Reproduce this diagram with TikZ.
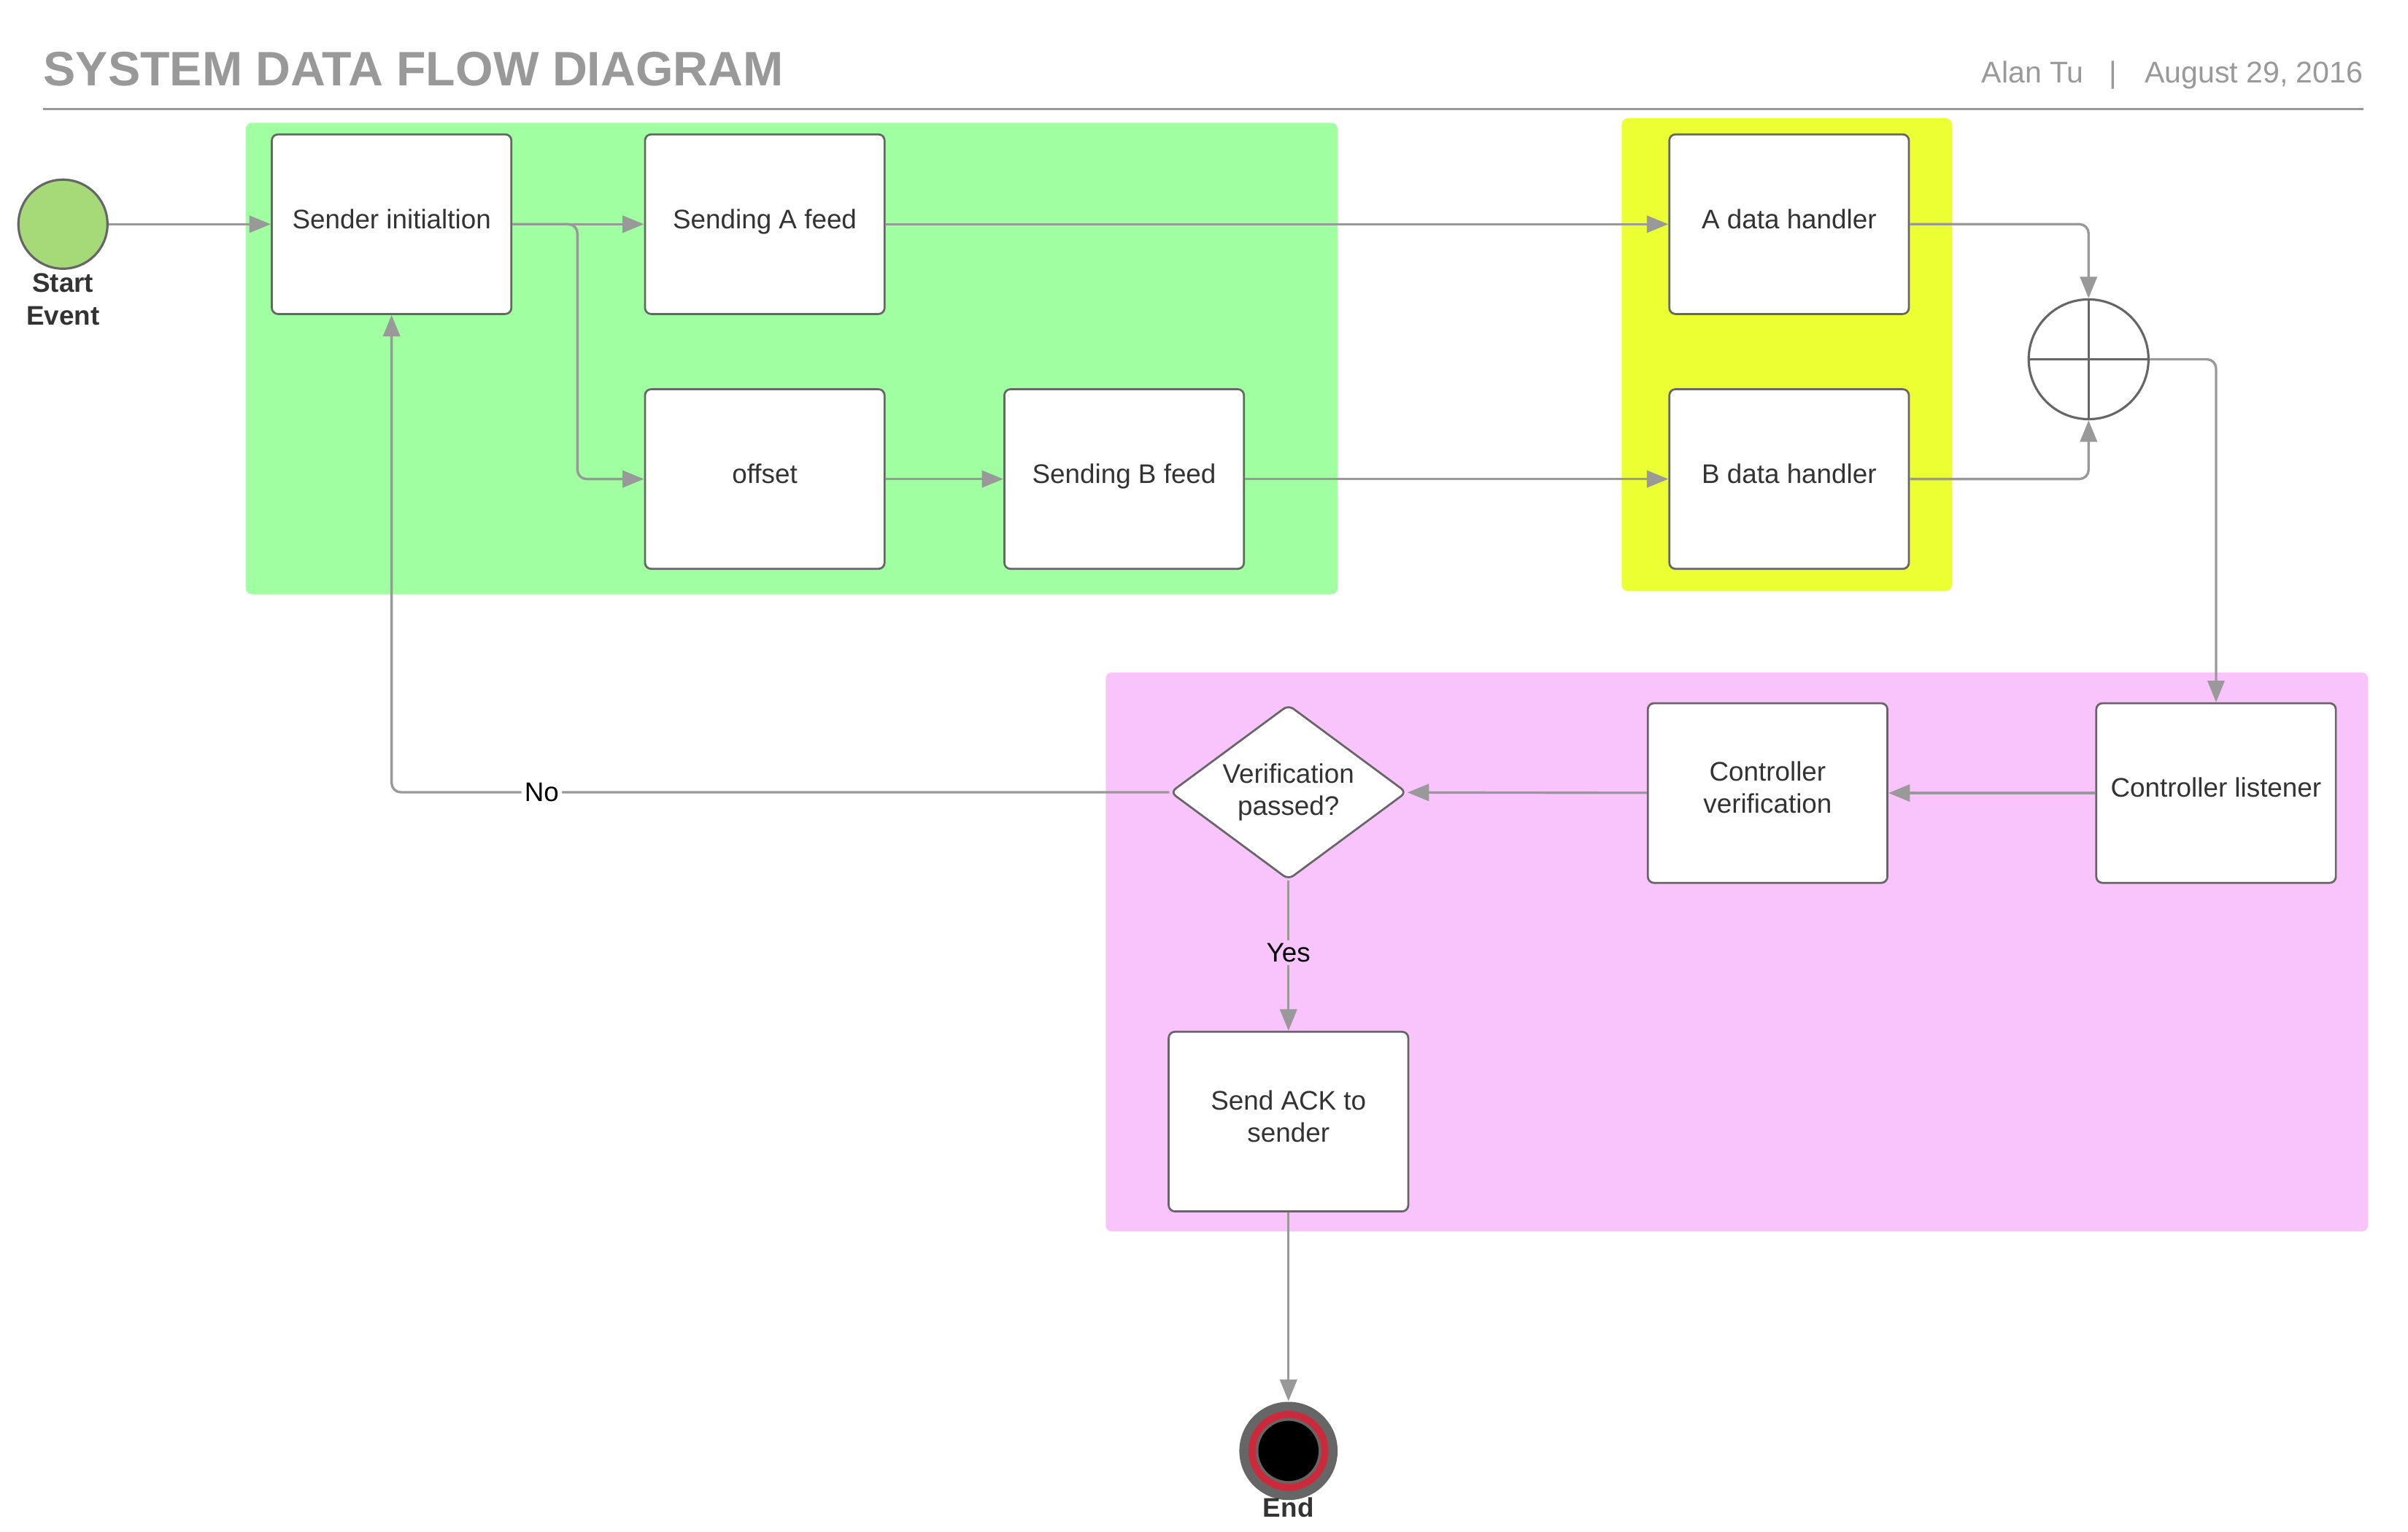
\documentclass[tikz,border=0pt]{standalone}
\usepackage{fontspec}
\setmainfont{Liberation Sans}
\usetikzlibrary{arrows.meta,shapes.geometric,calc}
\definecolor{titlegray}{RGB}{153,153,153}
\definecolor{conngray}{RGB}{153,153,153}
\definecolor{bordergray}{RGB}{102,102,102}
\definecolor{textdark}{RGB}{51,51,51}
\definecolor{greenbg}{RGB}{160,255,160}
\definecolor{yellowbg}{RGB}{235,255,51}
\definecolor{pinkbg}{RGB}{249,196,252}
\definecolor{startgreen}{RGB}{166,217,119}
\definecolor{endred}{RGB}{204,41,58}
\begin{document}
\begin{tikzpicture}[x=0.5pt,y=-0.5pt,
  boxnode/.style={draw=bordergray, fill=white, line width=0.65pt, rounded corners=2pt,
    minimum width=78pt, minimum height=58.5pt, inner sep=0pt, align=center, text depth=3.6pt,
    text=textdark, font=\fontsize{8.75pt}{10.5pt}\selectfont},
  conn/.style={draw=conngray, line width=0.8pt, -{Triangle[length=7pt,width=5.5pt]}},
  lbl/.style={font=\fontsize{8.75pt}{10.5pt}\selectfont, text=black, inner sep=1pt},
  region/.style={rounded corners=2pt}]
\useasboundingbox (0,0) rectangle (1568,997.8);
\fill[white] (0,0) rectangle (1568,997.8);
% header
\node[anchor=base west, inner sep=0pt, text=titlegray, font=\fontsize{15.75pt}{18pt}\selectfont\bfseries] (title) at (28,56) {SYSTEM DATA FLOW DIAGRAM};
\node[anchor=base west, inner sep=0pt, text=titlegray, font=\fontsize{9.75pt}{12pt}\selectfont] (author) at (1290,54) {Alan Tu};
\node[anchor=base, inner sep=0pt, text=titlegray, font=\fontsize{9.75pt}{12pt}\selectfont] (sep) at (1376,54) {|};
\node[anchor=base east, inner sep=0pt, text=titlegray, font=\fontsize{9.75pt}{12pt}\selectfont] (date) at (1539,54) {August 29, 2016};
\draw[titlegray, line width=0.8pt] (28,71) -- (1539,71);
% regions
\fill[greenbg, region] (160,80) rectangle (871,387);
\fill[yellowbg, region] (1056,77) rectangle (1271,385);
\fill[pinkbg, region] (720,438) rectangle (1542,802);
% start and end
\node[circle, draw=bordergray, fill=startgreen, line width=0.75pt, minimum size=29pt, inner sep=0pt] (st) at (41,146) {};
\node[align=center, inner sep=0pt, text=textdark, font=\fontsize{8.75pt}{10.5pt}\selectfont\bfseries] (stl) at (41,195) {Start\\Event};
\node[circle, fill=bordergray, minimum size=32pt, inner sep=0pt] (en) at (839,945) {};
\fill[endred] (en.center) circle (13pt);
\fill[bordergray] (en.center) circle (10.7pt);
\fill[black] (en.center) circle (9.8pt);
\node[inner sep=0pt, text=textdark, font=\fontsize{8.75pt}{10.5pt}\selectfont\bfseries] (enl) at (839,982) {End};
% boxes
\node[boxnode] (si) at (255,146) {Sender initialtion};
\node[boxnode] (sa) at (498,146) {Sending A feed};
\node[boxnode] (off) at (498,312) {offset};
\node[boxnode] (sb) at (732,312) {Sending B feed};
\node[boxnode] (ad) at (1165,146) {A data handler};
\node[boxnode] (bd) at (1165,312) {B data handler};
\node[boxnode] (cl) at (1443,516.5) {Controller listener};
\node[boxnode] (cv) at (1151,516.5) {Controller\\verification};
\node[boxnode] (ack) at (839,730.5) {Send ACK to\\sender};
\node[diamond, draw=bordergray, fill=white, line width=0.65pt, rounded corners=2pt,
  minimum width=77pt, minimum height=57pt, aspect=1.35, inner sep=0pt, align=center,
  text=textdark, font=\fontsize{8.75pt}{10.5pt}\selectfont] (dec) at (839,516) {Verification\\passed?};
\node[circle, draw=bordergray, fill=white, line width=0.75pt, minimum size=39pt, inner sep=0pt] (gw) at (1360,234) {};
\draw[bordergray, line width=0.75pt] (gw.north) -- (gw.south) (gw.west) -- (gw.east);
% connectors
\coordinate (br) at (376,146);
\draw[conn] (st) -- (si);
\draw[conn] (si) -- (sa);
\draw[conn, rounded corners=3pt] (si.east) -- (br) |- (off.west);
\draw[conn] (sa) -- (ad);
\draw[conn] (off) -- (sb);
\draw[conn] (sb) -- (bd);
\draw[conn, rounded corners=3pt] (ad.east) -| (gw.north);
\draw[conn, rounded corners=3pt] (bd.east) -| (gw.south);
\draw[conn, rounded corners=3pt] (gw.east) -| (cl.north);
\draw[conn] (cl) -- (cv);
\draw[conn] (cv) -- (dec);
\draw[conn, rounded corners=3pt] (dec.west) -| node[lbl, fill=white, pos=0.4035] (no) {No} (si.south);
\draw[conn] (dec.south) -- node[lbl, fill=pinkbg, pos=0.48] (yes) {Yes} (ack.north);
\draw[conn] (ack) -- (en);
\end{tikzpicture}
\end{document}
